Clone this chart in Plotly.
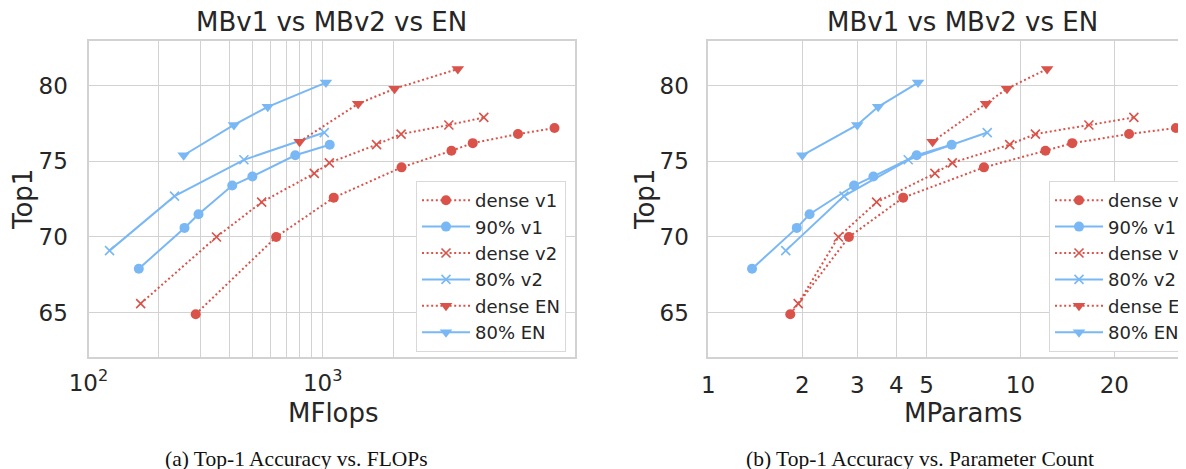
import plotly.graph_objects as go

# ---------------- data ----------------
series_names = ["dense v1", "90% v1", "dense v2", "80% v2", "dense EN", "80% EN"]

dense_v1_mflops = [287, 633, 1115, 2172, 3548, 4375, 6826, 9776]
dense_v1_mparams = [1.83, 2.82, 4.21, 7.64, 12.03, 14.66, 22.3, 31.5]
dense_v1_top1 = [64.9, 70.0, 72.6, 74.6, 75.7, 76.2, 76.8, 77.2]

sparse90_v1_mflops = [164, 257, 295, 411, 501, 764, 1072]
sparse90_v1_mparams = [1.38, 1.92, 2.11, 2.93, 3.38, 4.65, 6.02]
sparse90_v1_top1 = [67.9, 70.6, 71.5, 73.4, 74.0, 75.4, 76.1]

dense_v2_mflops = [167, 352, 549, 921, 1068, 1699, 2163, 3459, 4877]
dense_v2_mparams = [1.94, 2.61, 3.46, 5.32, 6.05, 9.24, 11.17, 16.58, 23.1]
dense_v2_top1 = [65.6, 70.0, 72.3, 74.2, 74.9, 76.1, 76.8, 77.4, 77.9]

sparse80_v2_mflops = [123, 233, 461, 1016]
sparse80_v2_mparams = [1.77, 2.72, 4.37, 7.83]
sparse80_v2_top1 = [69.1, 72.7, 75.1, 76.9]

dense_en_mflops = [797, 1418, 2028, 3778]
dense_en_mparams = [5.23, 7.76, 9.06, 12.18]
dense_en_top1 = [76.3, 78.8, 79.8, 81.1]

sparse80_en_mflops = [255, 418, 583, 1033]
sparse80_en_mparams = [2.0, 3.0, 3.5, 4.7]
sparse80_en_top1 = [75.4, 77.4, 78.6, 80.2]

y_ticks = [65, 70, 75, 80]
flops_ticks = [100, 1000]
flops_ticktext = ["10<sup>2</sup>", "10<sup>3</sup>"]
flops_minor = [200, 300, 400, 500, 600, 700, 800, 900, 2000]
params_ticks = [1, 2, 3, 4, 5, 10, 20]
params_ticktext = ["1", "2", "3", "4", "5", "10", "20"]

title_text = "MBv1 vs MBv2 vs EN"
caption_a = "(a) Top-1 Accuracy vs. FLOPs"
caption_b = "(b) Top-1 Accuracy vs. Parameter Count"

# ---------------- style ----------------
W, H = 1186, 469
OFF = 8  # page body margin shifts the figure by this many pixels
RED = "#d9534a"
BLUE = "#79b8f5"
GRID = "#d2d2d2"
TXT = "#262626"
FONT = "DejaVu Sans"


def px(x):
    return (x - OFF) / W


def py(y):
    return 1 - (y - OFF) / H


styles = [
    dict(color=RED, symbol="circle", dash="2px,2.6px"),
    dict(color=BLUE, symbol="circle", dash="solid"),
    dict(color=RED, symbol="x-thin", dash="2px,2.6px"),
    dict(color=BLUE, symbol="x-thin", dash="solid"),
    dict(color=RED, symbol="triangle-down", dash="2px,2.6px"),
    dict(color=BLUE, symbol="triangle-down", dash="solid"),
]

left_x = [dense_v1_mflops, sparse90_v1_mflops, dense_v2_mflops,
          sparse80_v2_mflops, dense_en_mflops, sparse80_en_mflops]
right_x = [dense_v1_mparams, sparse90_v1_mparams, dense_v2_mparams,
           sparse80_v2_mparams, dense_en_mparams, sparse80_en_mparams]
ys = [dense_v1_top1, sparse90_v1_top1, dense_v2_top1,
      sparse80_v2_top1, dense_en_top1, sparse80_en_top1]

fig = go.Figure()


def marker_for(st):
    if st["symbol"] == "x-thin":
        return dict(symbol="x-thin", size=9, color=st["color"],
                    line=dict(color=st["color"], width=1.6))
    if st["symbol"] == "triangle-down":
        return dict(symbol="triangle-down", size=11, color=st["color"],
                    line=dict(width=0))
    return dict(symbol="circle", size=10, color=st["color"], line=dict(width=0))


for xs_list, xa, ya, leg in [(left_x, "x", "y", "legend"), (right_x, "x2", "y2", "legend2")]:
    for name, xs, yv, st in zip(series_names, xs_list, ys, styles):
        fig.add_trace(go.Scatter(
            x=xs, y=yv, name=name, mode="lines+markers",
            xaxis=xa, yaxis=ya, legend=leg,
            line=dict(color=st["color"], width=2, dash=st["dash"]),
            marker=marker_for(st),
        ))

y_dom = [py(357.3), py(41)]
left_dom = [px(88.5), px(575.3)]
right_dom = [px(708.4), 1.0]
right_end_screen = W + OFF
right_log_max = (right_end_screen - 708.4) / 312.0

axis_common = dict(showgrid=True, gridcolor=GRID, gridwidth=1.3, zeroline=False,
                   showline=True, linecolor=GRID, linewidth=2, ticks="",
                   automargin=False,
                   tickfont=dict(family=FONT, size=23, color=TXT))

legend_common = dict(xanchor="left", yanchor="top", bgcolor="white",
                     bordercolor="#d9d9d9", borderwidth=1, itemwidth=48,
                     font=dict(family=FONT, size=18, color=TXT), tracegroupgap=0)

fig.update_layout(
    width=W, height=H,
    margin=dict(l=0, r=0, t=0, b=0, autoexpand=False),
    paper_bgcolor="white", plot_bgcolor="white",
    font=dict(family=FONT, color=TXT),
    showlegend=True,
    xaxis=dict(domain=left_dom, type="log", range=[2, 4.079], anchor="y",
               tickvals=flops_ticks, ticktext=flops_ticktext, mirror=True,
               ticklabelstandoff=4,
               minor=dict(tickvals=flops_minor, showgrid=True, gridcolor=GRID,
                          gridwidth=1.3, ticks=""),
               **axis_common),
    yaxis=dict(domain=y_dom, range=[62.05, 82.95], anchor="x",
               tickvals=y_ticks, mirror=True, ticklabelstandoff=14, **axis_common),
    xaxis2=dict(domain=right_dom, type="log", range=[0, right_log_max], anchor="y2",
                tickvals=params_ticks, ticktext=params_ticktext, mirror=True,
                ticklabelstandoff=6, **axis_common),
    yaxis2=dict(domain=y_dom, range=[62.05, 82.95], anchor="x2",
                tickvals=y_ticks, mirror=False, ticklabelstandoff=13, **axis_common),
    legend=dict(x=px(416), y=py(181), **legend_common),
    legend2=dict(x=px(1049), y=py(181), **legend_common),
)

ann = []
for cx in [331.4, 962.5]:
    ann.append(dict(text=title_text, x=px(cx), y=py(22), xref="paper", yref="paper",
                    xanchor="center", yanchor="middle", showarrow=False,
                    font=dict(family=FONT, size=26, color=TXT)))
ann.append(dict(text="MFlops", x=px(333.5), y=py(413), xref="paper", yref="paper",
                xanchor="center", yanchor="middle", showarrow=False,
                font=dict(family=FONT, size=26, color=TXT)))
ann.append(dict(text="MParams", x=px(962.5), y=py(413), xref="paper", yref="paper",
                xanchor="center", yanchor="middle", showarrow=False,
                font=dict(family=FONT, size=26, color=TXT)))
for cx in [23, 645]:
    ann.append(dict(text="Top1", x=px(cx), y=py(200), xref="paper", yref="paper",
                    xanchor="center", yanchor="middle", showarrow=False, textangle=-90,
                    font=dict(family=FONT, size=26, color=TXT)))
ann.append(dict(text=caption_a, x=px(296.5), y=py(459), xref="paper", yref="paper",
                xanchor="center", yanchor="middle", showarrow=False,
                font=dict(family="Liberation Serif", size=21.5, color="#111111")))
ann.append(dict(text=caption_b, x=px(920), y=py(459), xref="paper", yref="paper",
                xanchor="center", yanchor="middle", showarrow=False,
                font=dict(family="Liberation Serif", size=21.5, color="#111111")))
fig.update_layout(annotations=ann)

fig.write_html("out.html")
